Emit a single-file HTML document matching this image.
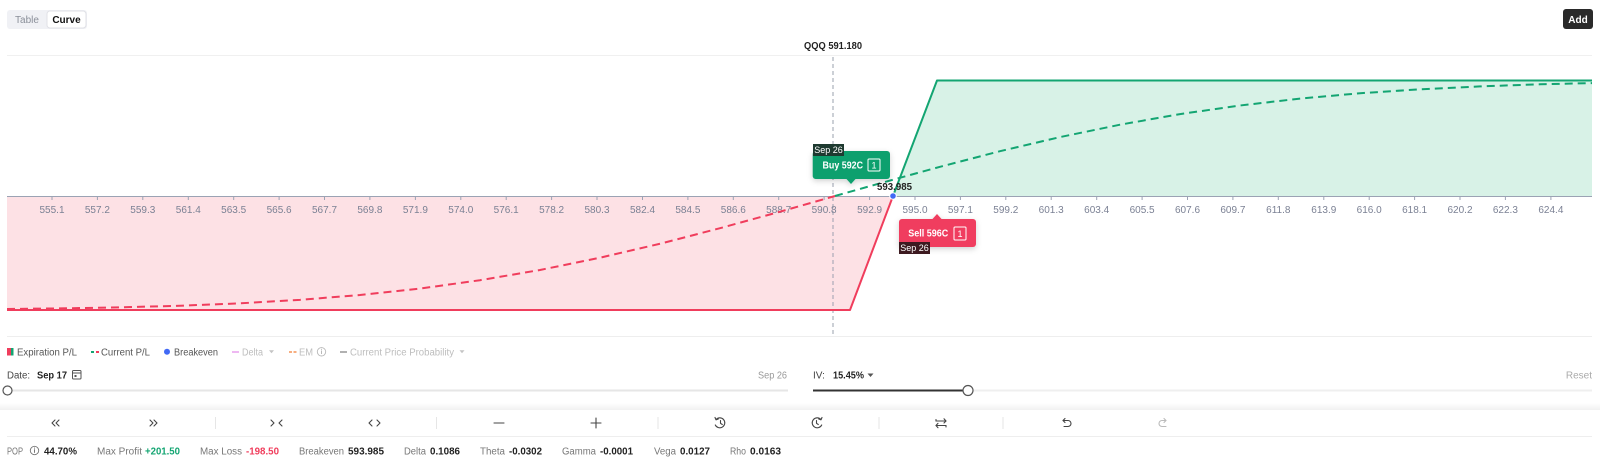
<!DOCTYPE html>
<html>
<head>
<meta charset="utf-8">
<style>
  html,body{margin:0;padding:0;background:#fff;}
  body{width:1600px;height:459px;overflow:hidden;}
  svg{display:block;font-family:"Liberation Sans",Arial,sans-serif;}
</style>
</head>
<body>
<svg width="1600" height="459" viewBox="0 0 1600 459" xmlns="http://www.w3.org/2000/svg">
  <defs>
    <filter id="sh" x="-30%" y="-40%" width="160%" height="200%">
      <feDropShadow dx="0" dy="2" stdDeviation="3" flood-color="#000" flood-opacity="0.18"/>
    </filter>
    <linearGradient id="tbsh" x1="0" y1="0" x2="0" y2="1">
      <stop offset="0" stop-color="#ffffff"/>
      <stop offset="1" stop-color="#f1f1f1"/>
    </linearGradient>
  </defs>

  <!-- Toggle -->
  <rect x="7" y="10" width="80" height="19" rx="3" fill="#f0f1f5"/>
  <rect x="47" y="11" width="39" height="17" rx="3" fill="#fff" stroke="#e0e1e6" stroke-width="1"/>
  <text x="27" y="23" font-size="10" fill="#8a8f99" text-anchor="middle">Table</text>
  <text x="66.5" y="23" font-size="10" fill="#111" text-anchor="middle" font-weight="600">Curve</text>

  <!-- Add -->
  <rect x="1563" y="9" width="30" height="20" rx="3" fill="#2a2a2a"/>
  <text x="1578" y="23" font-size="10" fill="#fff" text-anchor="middle" font-weight="700">Add</text>

  <!-- top line -->
  <line x1="7" y1="55.5" x2="1592" y2="55.5" stroke="#f0f0f0" stroke-width="1"/>

  <!-- fills -->
  <polygon points="7,196 7,310 850,310 893,196" fill="#fde1e5"/>
  <polygon points="893,196 937,80.5 1592,80.5 1592,196" fill="#d8f2e7"/>

  <!-- current price vertical -->
  <line x1="833" y1="57" x2="833" y2="336" stroke="#9aa0ae" stroke-width="1" stroke-dasharray="4 3"/>
  <text x="804" y="49" font-size="10" fill="#222" font-weight="700" textLength="58" lengthAdjust="spacingAndGlyphs">QQQ 591.180</text>

  <!-- axis -->
  <line x1="7" y1="196.5" x2="1592" y2="196.5" stroke="#9ba3b4" stroke-width="1"/>
  <g stroke="#9ba3b4" stroke-width="1">
    <line x1="52" y1="196" x2="52" y2="200"/><line x1="97.4" y1="196" x2="97.4" y2="200"/>
    <line x1="142.8" y1="196" x2="142.8" y2="200"/><line x1="188.3" y1="196" x2="188.3" y2="200"/>
    <line x1="233.7" y1="196" x2="233.7" y2="200"/><line x1="279.1" y1="196" x2="279.1" y2="200"/>
    <line x1="324.5" y1="196" x2="324.5" y2="200"/><line x1="369.9" y1="196" x2="369.9" y2="200"/>
    <line x1="415.4" y1="196" x2="415.4" y2="200"/><line x1="460.8" y1="196" x2="460.8" y2="200"/>
    <line x1="506.2" y1="196" x2="506.2" y2="200"/><line x1="551.6" y1="196" x2="551.6" y2="200"/>
    <line x1="597" y1="196" x2="597" y2="200"/><line x1="642.5" y1="196" x2="642.5" y2="200"/>
    <line x1="687.9" y1="196" x2="687.9" y2="200"/><line x1="733.3" y1="196" x2="733.3" y2="200"/>
    <line x1="778.7" y1="196" x2="778.7" y2="200"/><line x1="824.1" y1="196" x2="824.1" y2="200"/>
    <line x1="869.6" y1="196" x2="869.6" y2="200"/><line x1="915" y1="196" x2="915" y2="200"/>
    <line x1="960.4" y1="196" x2="960.4" y2="200"/><line x1="1005.8" y1="196" x2="1005.8" y2="200"/>
    <line x1="1051.2" y1="196" x2="1051.2" y2="200"/><line x1="1096.7" y1="196" x2="1096.7" y2="200"/>
    <line x1="1142.1" y1="196" x2="1142.1" y2="200"/><line x1="1187.5" y1="196" x2="1187.5" y2="200"/>
    <line x1="1232.9" y1="196" x2="1232.9" y2="200"/><line x1="1278.3" y1="196" x2="1278.3" y2="200"/>
    <line x1="1323.8" y1="196" x2="1323.8" y2="200"/><line x1="1369.2" y1="196" x2="1369.2" y2="200"/>
    <line x1="1414.6" y1="196" x2="1414.6" y2="200"/><line x1="1460" y1="196" x2="1460" y2="200"/>
    <line x1="1505.4" y1="196" x2="1505.4" y2="200"/><line x1="1550.9" y1="196" x2="1550.9" y2="200"/>
  </g>
  <g font-size="10" fill="#7b8194" text-anchor="middle">
    <text x="52" y="213">555.1</text><text x="97.4" y="213">557.2</text>
    <text x="142.8" y="213">559.3</text><text x="188.3" y="213">561.4</text>
    <text x="233.7" y="213">563.5</text><text x="279.1" y="213">565.6</text>
    <text x="324.5" y="213">567.7</text><text x="369.9" y="213">569.8</text>
    <text x="415.4" y="213">571.9</text><text x="460.8" y="213">574.0</text>
    <text x="506.2" y="213">576.1</text><text x="551.6" y="213">578.2</text>
    <text x="597" y="213">580.3</text><text x="642.5" y="213">582.4</text>
    <text x="687.9" y="213">584.5</text><text x="733.3" y="213">586.6</text>
    <text x="778.7" y="213">588.7</text><text x="824.1" y="213">590.8</text>
    <text x="869.6" y="213">592.9</text><text x="915" y="213">595.0</text>
    <text x="960.4" y="213">597.1</text><text x="1005.8" y="213">599.2</text>
    <text x="1051.2" y="213">601.3</text><text x="1096.7" y="213">603.4</text>
    <text x="1142.1" y="213">605.5</text><text x="1187.5" y="213">607.6</text>
    <text x="1232.9" y="213">609.7</text><text x="1278.3" y="213">611.8</text>
    <text x="1323.8" y="213">613.9</text><text x="1369.2" y="213">616.0</text>
    <text x="1414.6" y="213">618.1</text><text x="1460" y="213">620.2</text>
    <text x="1505.4" y="213">622.3</text><text x="1550.9" y="213">624.4</text>
  </g>

  <!-- expiration lines -->
  <polyline points="7,310 850,310 893,196" fill="none" stroke="#f03d5c" stroke-width="2" stroke-linejoin="round"/>
  <polyline points="893,196 937,80.5 1592,80.5" fill="none" stroke="#13a572" stroke-width="2" stroke-linejoin="round"/>

  <!-- current P/L dashed -->
  <polyline points="7,308.95 60,308.4 120,307.36 180,305.74 240,303.33 300,299.84 360,295 420,288.57 480,280.2 540,270 600,257.7 660,243.76 720,228.2 780,211.7 835,196" fill="none" stroke="#f03d5c" stroke-width="2" stroke-dasharray="8 5"/>
  <polyline points="835,196 880,183.3 940,166.8 1000,151.2 1060,137.1 1120,124.7 1180,114.1 1240,105.5 1300,98.6 1360,93.25 1420,89.3 1480,86.4 1540,84.3 1592,83.1" fill="none" stroke="#13a572" stroke-width="2" stroke-dasharray="8 5"/>

  <!-- breakeven -->
  <text x="877" y="190" font-size="10" fill="#222" font-weight="700" textLength="35" lengthAdjust="spacingAndGlyphs">593.985</text>
  <circle cx="893" cy="196" r="3.3" fill="#4169f5" stroke="#fff" stroke-width="1"/>

  <!-- Buy tooltip -->
  <g filter="url(#sh)">
    <rect x="812.7" y="151" width="77.3" height="28" rx="3" fill="#0ea06e"/>
    <polygon points="846,178.5 851,184 856,178.5" fill="#0ea06e"/>
  </g>
  <text x="822.5" y="168.5" font-size="10" fill="#fff" font-weight="700" textLength="40.5" lengthAdjust="spacingAndGlyphs">Buy 592C</text>
  <rect x="868" y="159" width="12" height="12" fill="none" stroke="#fff" stroke-width="1" rx="1"/>
  <text x="874" y="168.5" font-size="9" fill="#fff" text-anchor="middle">1</text>
  <rect x="813" y="144" width="31" height="12" fill="#1e3a30"/>
  <text x="828.5" y="153" font-size="9" fill="#fff" text-anchor="middle">Sep 26</text>

  <!-- Sell tooltip -->
  <g filter="url(#sh)">
    <rect x="899" y="219" width="77" height="28" rx="3" fill="#f03e5e"/>
    <polygon points="932,219.5 937,214 942,219.5" fill="#f03e5e"/>
  </g>
  <text x="908.3" y="236.5" font-size="10" fill="#fff" font-weight="700" textLength="40" lengthAdjust="spacingAndGlyphs">Sell 596C</text>
  <rect x="954" y="227" width="12" height="13" fill="none" stroke="#fff" stroke-width="1" rx="1"/>
  <text x="960" y="237" font-size="9" fill="#fff" text-anchor="middle">1</text>
  <rect x="899" y="242" width="31" height="12" fill="#3d1a20"/>
  <text x="914.5" y="251" font-size="9" fill="#fff" text-anchor="middle">Sep 26</text>

  <!-- chart bottom -->
  <line x1="7" y1="336.5" x2="1592" y2="336.5" stroke="#eeeeee" stroke-width="1"/>

  <!-- Legend -->
  <g font-size="10">
    <rect x="7" y="348" width="4" height="7.5" fill="#f03d5c"/>
    <rect x="11" y="348" width="2.5" height="7.5" fill="#13a572"/>
    <text x="17" y="355.5" fill="#555" textLength="60" lengthAdjust="spacingAndGlyphs">Expiration P/L</text>

    <rect x="91" y="351" width="3" height="2" fill="#13a572"/>
    <rect x="96" y="351" width="3" height="2" fill="#f03d5c"/>
    <text x="101" y="355.5" fill="#555" textLength="49" lengthAdjust="spacingAndGlyphs">Current P/L</text>

    <circle cx="167" cy="351.8" r="3" fill="#4169f5"/>
    <text x="174" y="355.5" fill="#555" textLength="44" lengthAdjust="spacingAndGlyphs">Breakeven</text>

    <rect x="232" y="351.2" width="7" height="1.6" fill="#e9a6ef"/>
    <text x="242" y="355.5" fill="#bdbdbd" textLength="21" lengthAdjust="spacingAndGlyphs">Delta</text>
    <polygon points="269,350.3 274,350.3 271.5,353.3" fill="#c4c4c4"/>

    <rect x="289" y="351.2" width="3" height="1.6" fill="#f59b61"/>
    <rect x="293.5" y="351.2" width="3" height="1.6" fill="#f59b61"/>
    <text x="299" y="355.5" fill="#bdbdbd" textLength="14" lengthAdjust="spacingAndGlyphs">EM</text>
    <circle cx="321.5" cy="351.8" r="4.2" fill="none" stroke="#b8b8b8" stroke-width="0.9"/>
    <rect x="321" y="350.5" width="1" height="3.5" fill="#b8b8b8"/>
    <rect x="321" y="348.8" width="1" height="1" fill="#b8b8b8"/>

    <rect x="340" y="351.2" width="7" height="1.6" fill="#9e9e9e"/>
    <text x="350" y="355.5" fill="#bdbdbd" textLength="104" lengthAdjust="spacingAndGlyphs">Current Price Probability</text>
    <polygon points="459.5,350.3 464.5,350.3 462,353.3" fill="#c4c4c4"/>
  </g>

  <!-- Date row -->
  <g font-size="10">
    <text x="7" y="378.5" fill="#444" textLength="23" lengthAdjust="spacingAndGlyphs">Date:</text>
    <text x="37" y="378.5" fill="#222" font-weight="700" textLength="30" lengthAdjust="spacingAndGlyphs">Sep 17</text>
    <rect x="72.5" y="370.5" width="8.5" height="8.5" rx="1" fill="none" stroke="#555" stroke-width="1"/>
    <line x1="72.5" y1="373" x2="81" y2="373" stroke="#555" stroke-width="1"/>
    <rect x="74.5" y="375" width="2" height="2" fill="#555"/>
    <text x="758" y="378.5" fill="#999" textLength="29" lengthAdjust="spacingAndGlyphs">Sep 26</text>

    <text x="813" y="378.5" fill="#444">IV:</text>
    <text x="833" y="378.5" fill="#222" font-weight="700" textLength="31" lengthAdjust="spacingAndGlyphs">15.45%</text>
    <polygon points="867.5,373.5 873.5,373.5 870.5,377" fill="#555"/>
    <text x="1592" y="378.5" fill="#aaa" text-anchor="end">Reset</text>
  </g>
  <!-- sliders -->
  <line x1="7" y1="390.5" x2="788" y2="390.5" stroke="#e6e6e6" stroke-width="2"/>
  <circle cx="7.5" cy="390.5" r="4.5" fill="#fff" stroke="#555" stroke-width="1.2"/>
  <line x1="968" y1="390.5" x2="1592" y2="390.5" stroke="#efefef" stroke-width="2"/>
  <line x1="813" y1="390.5" x2="968" y2="390.5" stroke="#333" stroke-width="2"/>
  <circle cx="968" cy="390.5" r="5" fill="#fff" stroke="#555" stroke-width="1.2"/>

  <!-- toolbar -->
  <rect x="0" y="403" width="1600" height="7" fill="url(#tbsh)"/>
  <g stroke="#e6e6e6" stroke-width="1">
    <line x1="215.5" y1="417" x2="215.5" y2="429"/>
    <line x1="436.5" y1="417" x2="436.5" y2="429"/>
    <line x1="658" y1="417" x2="658" y2="429"/>
    <line x1="879" y1="417" x2="879" y2="429"/>
    <line x1="1003" y1="417" x2="1003" y2="429"/>
  </g>
  <g fill="none" stroke="#444" stroke-width="1.1" stroke-linecap="round" stroke-linejoin="round">
    <polyline points="55,420 52,423 55,426"/><polyline points="59,420 56,423 59,426"/>
    <polyline points="150,420 153,423 150,426"/><polyline points="154,420 157,423 154,426"/>
    <polyline points="271,420 274,423 271,426"/><polyline points="282,420 279,423 282,426"/>
    <polyline points="372,420 369,423 372,426"/><polyline points="377,420 380,423 377,426"/>
    <line x1="494" y1="423" x2="504" y2="423"/>
    <line x1="591" y1="423" x2="601" y2="423"/><line x1="596" y1="418" x2="596" y2="428"/>
    <path d="M716,419.5 A5,5 0 1 1 715.3,425"/>
    <polyline points="715,417.5 716,419.8 718.3,419"/>
    <polyline points="720.5,420.5 720.5,423.3 722.3,424.5"/>
    <path d="M821,419.5 A5,5 0 1 0 821.7,425"/>
    <polyline points="822,417.5 821,419.8 818.7,419"/>
    <polyline points="816.5,420.5 816.5,423.3 818.3,424.5"/>
    <polyline points="936,421 946,421"/><polyline points="944,418.8 946,421 944,423"/>
    <polyline points="936,421 936,419.5"/>
    <polyline points="946,425.5 936,425.5"/><polyline points="938,423.3 936,425.5 938,427.7"/>
    <polyline points="946,425.5 946,427"/>
    <path d="M1063,420.5 L1068,420.5 A3,3 0 0 1 1068,426.5 L1064,426.5"/>
    <polyline points="1065,418.5 1063,420.5 1065,422.5"/>
  </g>
  <g fill="none" stroke="#bbb" stroke-width="1.1" stroke-linecap="round" stroke-linejoin="round">
    <path d="M1166,420.5 L1162,420.5 A3,3 0 0 0 1162,426.5 L1166,426.5"/>
    <polyline points="1164,418.5 1166,420.5 1164,422.5"/>
  </g>
  <line x1="7" y1="436.5" x2="1592" y2="436.5" stroke="#eeeeee" stroke-width="1"/>

  <!-- stats -->
  <g font-size="10">
    <text x="7" y="454.5" fill="#777" textLength="16" lengthAdjust="spacingAndGlyphs">POP</text>
    <circle cx="34.5" cy="450.5" r="4.2" fill="none" stroke="#777" stroke-width="0.9"/>
    <rect x="34" y="449.3" width="1" height="3.5" fill="#777"/>
    <rect x="34" y="447.6" width="1" height="1" fill="#777"/>
    <text x="44" y="454.5" fill="#222" font-weight="700" textLength="33" lengthAdjust="spacingAndGlyphs">44.70%</text>

    <text x="97" y="454.5" fill="#777" textLength="45" lengthAdjust="spacingAndGlyphs">Max Profit</text>
    <text x="145" y="454.5" fill="#13a572" font-weight="600" textLength="35" lengthAdjust="spacingAndGlyphs">+201.50</text>

    <text x="200" y="454.5" fill="#777" textLength="42" lengthAdjust="spacingAndGlyphs">Max Loss</text>
    <text x="246" y="454.5" fill="#f03d5c" font-weight="600" textLength="33" lengthAdjust="spacingAndGlyphs">-198.50</text>

    <text x="299" y="454.5" fill="#777" textLength="45" lengthAdjust="spacingAndGlyphs">Breakeven</text>
    <text x="348" y="454.5" fill="#222" font-weight="700" textLength="36" lengthAdjust="spacingAndGlyphs">593.985</text>

    <text x="404" y="454.5" fill="#777" textLength="22" lengthAdjust="spacingAndGlyphs">Delta</text>
    <text x="430" y="454.5" fill="#222" font-weight="700" textLength="30" lengthAdjust="spacingAndGlyphs">0.1086</text>

    <text x="480" y="454.5" fill="#777" textLength="25" lengthAdjust="spacingAndGlyphs">Theta</text>
    <text x="509" y="454.5" fill="#222" font-weight="700" textLength="33" lengthAdjust="spacingAndGlyphs">-0.0302</text>

    <text x="562" y="454.5" fill="#777" textLength="34" lengthAdjust="spacingAndGlyphs">Gamma</text>
    <text x="600" y="454.5" fill="#222" font-weight="700" textLength="33" lengthAdjust="spacingAndGlyphs">-0.0001</text>

    <text x="654" y="454.5" fill="#777" textLength="22" lengthAdjust="spacingAndGlyphs">Vega</text>
    <text x="680" y="454.5" fill="#222" font-weight="700" textLength="30" lengthAdjust="spacingAndGlyphs">0.0127</text>

    <text x="730" y="454.5" fill="#777" textLength="16" lengthAdjust="spacingAndGlyphs">Rho</text>
    <text x="750" y="454.5" fill="#222" font-weight="700" textLength="31" lengthAdjust="spacingAndGlyphs">0.0163</text>
  </g>
</svg>
</body>
</html>
